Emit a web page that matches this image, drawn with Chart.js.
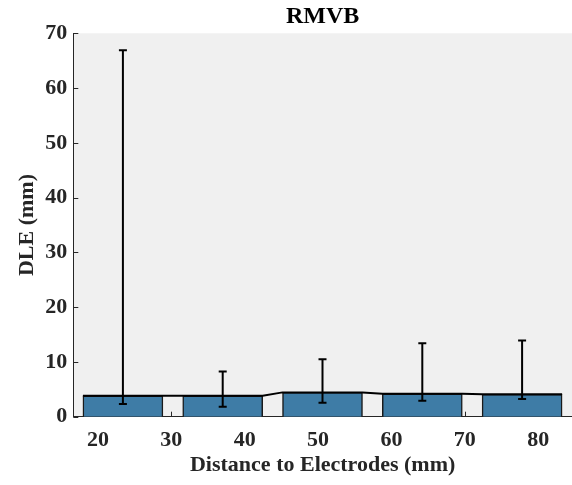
<!DOCTYPE html>
<html>
<head>
<meta charset="utf-8">
<script src="https://cdn.jsdelivr.net/npm/chart.js@4"></script>
<style>
html,body{margin:0;padding:0;background:#fff;}
#wrap{width:572px;height:485px;}
</style>
</head>
<body>
<div id="wrap"><canvas id="c" width="572" height="485"></canvas></div>
<script>
const distances = [23.4, 37.0, 50.6, 64.2, 77.8];
const dleMean = [3.83, 3.83, 4.44, 4.19, 4.08];
const dleLow = [2.3, 1.82, 2.55, 2.92, 3.23];
const dleHigh = [66.9, 8.26, 10.5, 13.4, 13.9];
const binWidth = 10.9;
const xTicks = [20, 30, 40, 50, 60, 70, 80];
const yTicks = [0, 10, 20, 30, 40, 50, 60, 70];

const barData = distances.map((d, i) => ({x: d, y: dleMean[i]}));
const lineData = [];
distances.forEach((d, i) => {
  lineData.push({x: d - binWidth / 2, y: dleMean[i]});
  lineData.push({x: d + binWidth / 2, y: dleMean[i]});
});

const FONT = "'Liberation Serif', 'Times New Roman', serif";
const AX = '#262626';

const bgPlugin = {
  id: 'bg',
  beforeDraw(chart) {
    const {ctx, chartArea: a} = chart;
    ctx.save();
    ctx.fillStyle = '#f0f0f0';
    ctx.fillRect(a.left, a.top, a.right - a.left, a.bottom - a.top);
    ctx.restore();
  },
  beforeDatasetsDraw(chart) {
    const {ctx, chartArea: a, scales} = chart;
    ctx.save();
    ctx.strokeStyle = AX;
    ctx.lineWidth = 1;
    ctx.beginPath();
    xTicks.forEach(v => {
      const px = Math.round(scales.x.getPixelForValue(v)) + 0.5;
      ctx.moveTo(px, a.bottom);
      ctx.lineTo(px, a.bottom - 5);
    });
    yTicks.forEach(v => {
      const py = Math.round(scales.y.getPixelForValue(v)) + 0.5;
      ctx.moveTo(a.left, py);
      ctx.lineTo(a.left + 5, py);
    });
    ctx.stroke();
    ctx.restore();
  },
  afterDatasetsDraw(chart) {
    const {ctx, scales} = chart;
    ctx.save();
    ctx.strokeStyle = '#000';
    ctx.lineWidth = 2;
    distances.forEach((d, i) => {
      const px = scales.x.getPixelForValue(d);
      const yl = scales.y.getPixelForValue(dleLow[i]);
      const yh = scales.y.getPixelForValue(dleHigh[i]);
      ctx.beginPath();
      ctx.moveTo(px, yl); ctx.lineTo(px, yh);
      ctx.moveTo(px - 4, yl); ctx.lineTo(px + 4, yl);
      ctx.moveTo(px - 4, yh); ctx.lineTo(px + 4, yh);
      ctx.stroke();
    });
    ctx.restore();
  }
};

new Chart(document.getElementById('c'), {
  type: 'bar',
  data: {
    datasets: [
      {
        type: 'line',
        data: lineData,
        borderColor: '#000',
        borderWidth: 2,
        pointRadius: 0,
        fill: false,
        tension: 0,
        order: 0
      },
      {
        type: 'bar',
        data: barData,
        backgroundColor: '#3e7ca6',
        borderColor: '#1a1a1a',
        borderWidth: 1.5,
        barThickness: 80,
        order: 1
      }
    ]
  },
  options: {
    responsive: false,
    animation: false,
    devicePixelRatio: 1,
    layout: {padding: 0},
    plugins: {
      legend: {display: false},
      tooltip: {enabled: false},
      title: {
        display: true,
        text: 'RMVB',
        fullSize: false,
        color: '#000',
        font: {family: FONT, size: 24, weight: 'bold', lineHeight: 1.2},
        padding: {top: 2, bottom: 2.5}
      }
    },
    scales: {
      x: {
        type: 'linear',
        offset: false,
        min: 16.64,
        max: 84.6,
        afterBuildTicks(s) { s.ticks = xTicks.map(v => ({value: v})); },
        afterFit(s) { s.height = 68.3; },
        grid: {display: false, drawTicks: false, offset: false},
        border: {display: true, color: AX, width: 1},
        ticks: {color: AX, padding: 10, font: {family: FONT, size: 22, weight: 'bold'}, maxRotation: 0, autoSkip: false},
        title: {display: true, text: 'Distance to Electrodes (mm)', color: AX, font: {family: FONT, size: 22, weight: 'bold', lineHeight: 1.2}, padding: {top: 0, bottom: 6}}
      },
      y: {
        type: 'linear',
        min: 0,
        max: 70,
        afterBuildTicks(s) { s.ticks = yTicks.map(v => ({value: v})); },
        afterFit(s) { s.width = 73.3; },
        grid: {display: false, drawTicks: false},
        border: {display: true, color: AX, width: 1},
        ticks: {color: AX, padding: 6, font: {family: FONT, size: 22, weight: 'bold'}},
        title: {display: true, text: 'DLE (mm)', color: AX, font: {family: FONT, size: 22, weight: 'bold', lineHeight: 1.2}, padding: {top: 14, bottom: 0}}
      }
    }
  },
  plugins: [bgPlugin]
});
</script>
</body>
</html>
